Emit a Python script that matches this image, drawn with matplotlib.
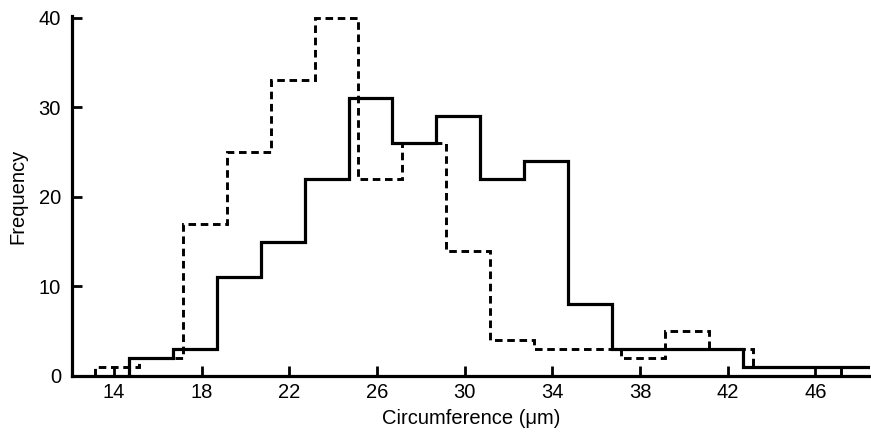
import matplotlib
matplotlib.use("Agg")
import matplotlib.pyplot as plt

plt.rcParams['font.family'] = ['Liberation Sans', 'DejaVu Sans']

# solid histogram
solid_edges = [14.7, 16.7, 18.7, 20.7, 22.7, 24.7, 26.7, 28.7, 30.7, 32.7,
               34.7, 36.7, 38.7, 40.7, 42.7, 44.7, 46.7, 48.7]
solid_counts = [2, 3, 11, 15, 22, 31, 26, 29, 22, 24, 8, 3, 3, 3, 1, 1, 1]

# dashed histogram
dashed_edges = [13.15, 15.15, 17.15, 19.15, 21.15, 23.15, 25.15, 27.15, 29.15,
                31.15, 33.15, 35.15, 37.15, 39.15, 41.15, 43.15, 45.15, 47.15]
dashed_counts = [1, 2, 17, 25, 33, 40, 22, 26, 14, 4, 3, 3, 2, 5, 3, 1, 1]

xticks = [14, 18, 22, 26, 30, 34, 38, 42, 46]
yticks = [0, 10, 20, 30, 40]

fig = plt.figure(figsize=(8.71, 4.38), dpi=100)
ax = fig.add_axes([0.0827, 0.1416, 0.9163, 0.8219])

ax.stairs(dashed_counts, dashed_edges, color='black', lw=2.1,
          linestyle=(0, (2.6, 1.6)))
ax.stairs(solid_counts, solid_edges, color='black', lw=2.3)

ax.set_xlim(12.08, 48.5)
ax.set_ylim(0, 40.2)
ax.set_xticks(xticks)
ax.set_yticks(yticks)

for s in ['top', 'right']:
    ax.spines[s].set_visible(False)
for s in ['left', 'bottom']:
    ax.spines[s].set_linewidth(2.3)

ax.tick_params(direction='in', length=7, width=2, labelsize=14.5)
ax.tick_params(axis='x', pad=5)
ax.tick_params(axis='y', pad=8)

ax.set_xlabel('Circumference (\u03bcm)', fontsize=14.5, labelpad=5)
ax.set_ylabel('Frequency', fontsize=14.5, labelpad=8)

fig.savefig('out.png', dpi=100)
